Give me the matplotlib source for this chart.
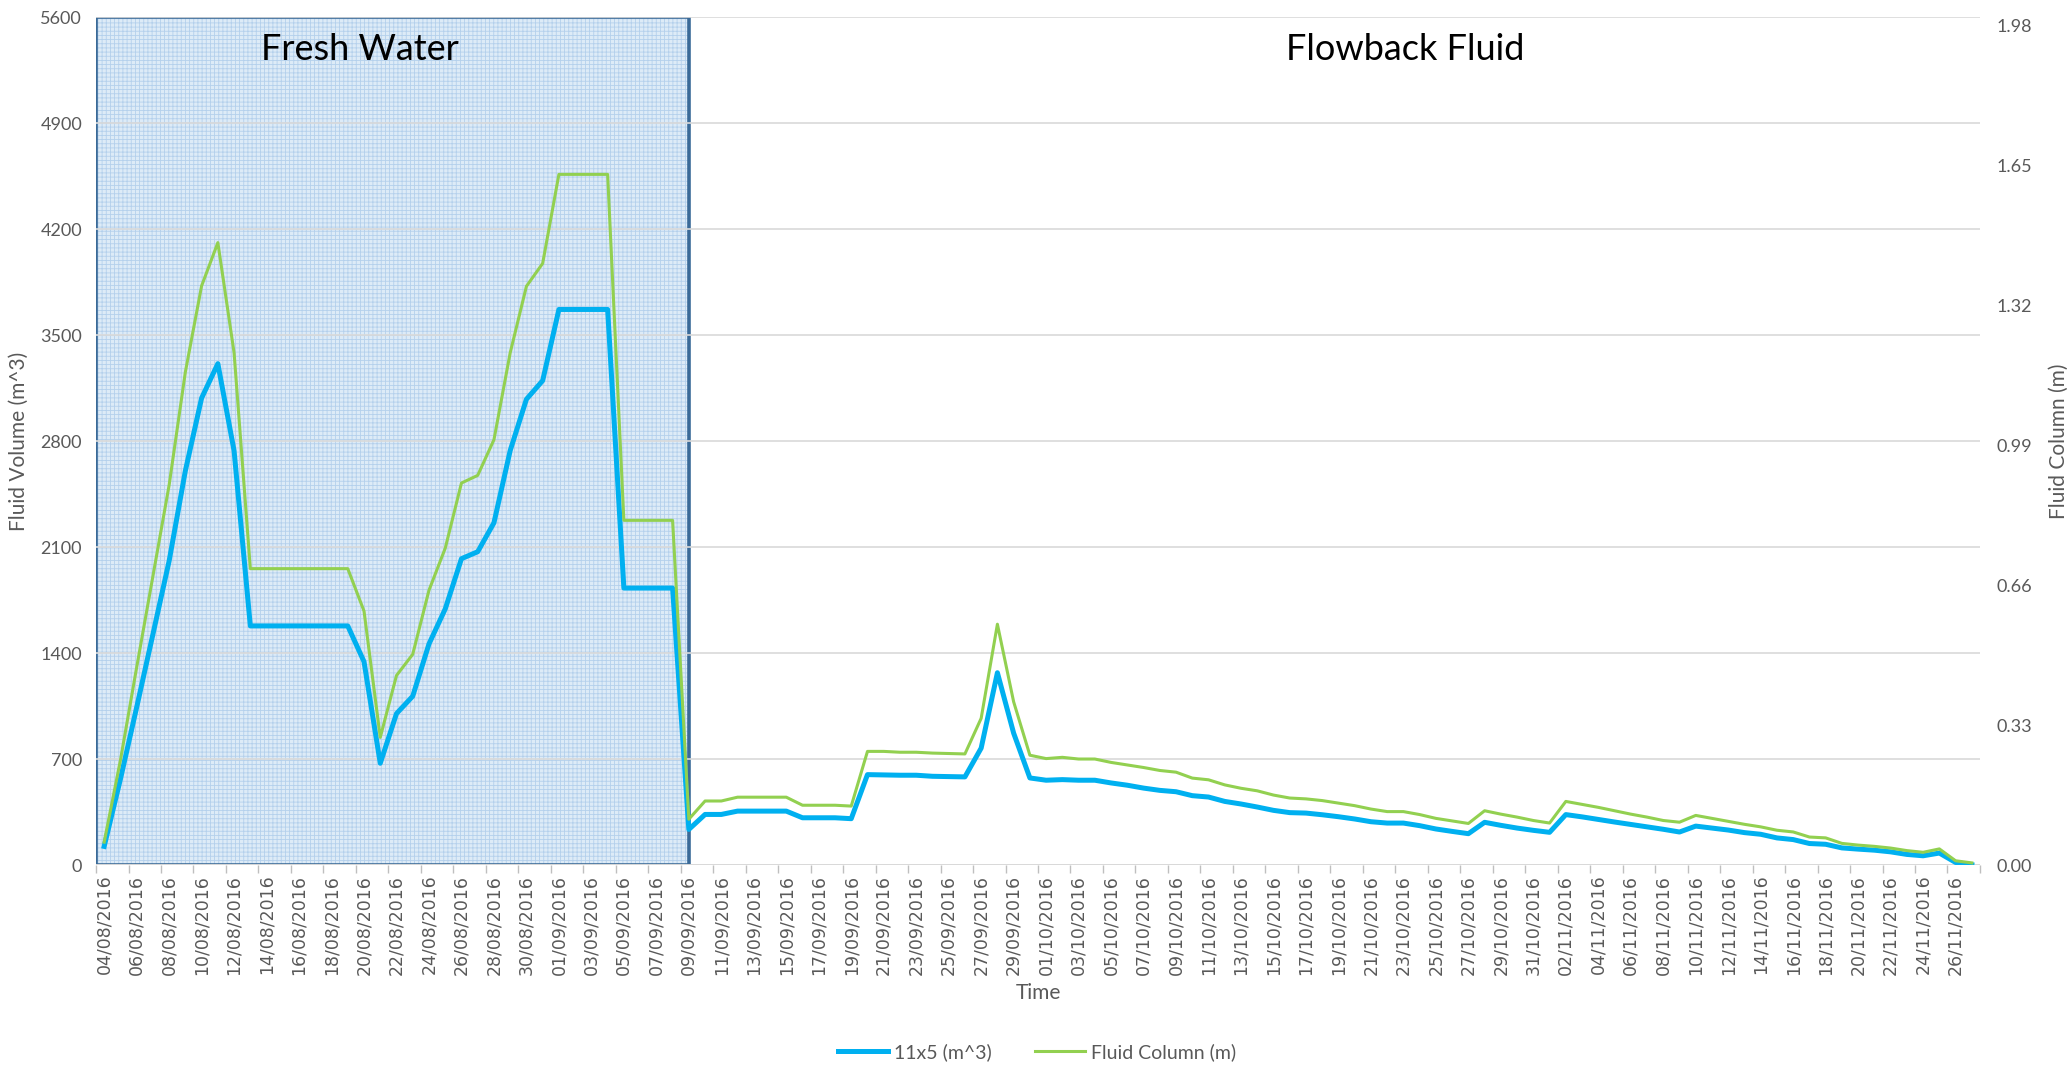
import matplotlib
matplotlib.use("Agg")
import matplotlib.pyplot as plt
import pandas as pd
from matplotlib.patches import Rectangle

plt.rcParams['font.family'] = ['Lato', 'DejaVu Sans']
plt.rcParams['hatch.linewidth'] = 0.6

# daily readings 04/08/2016 .. 27/11/2016
dates = pd.date_range("2016-08-04", "2016-11-27", freq="D")
date_labels = [d.strftime("%d/%m/%Y") for d in dates]

volume_11x5 = [
    123, 567, 1041, 1523, 2008, 2604, 3084, 3311, 2735,
    1579, 1579, 1579, 1579, 1579, 1579, 1579,
    1343, 672, 1000,
    1115, 1460, 1691, 2023, 2069, 2260, 2737, 3076, 3199,
    3669, 3669, 3669, 3669,
    1829, 1829, 1829, 1829,
    235, 334, 334, 356, 356, 356, 356, 312, 312, 312, 306,
    597, 595, 593, 593, 586, 584, 582, 772, 1270, 871,
    575, 560, 564, 560, 560, 542, 527, 508, 493, 484,
    458, 449, 420, 403, 383, 361, 346, 343, 332, 319,
    304, 286, 277, 277, 260, 238, 222, 207, 282, 262,
    244, 229, 216, 333, 318, 301, 284, 268, 252, 236,
    218, 257, 244, 231, 214, 203, 179, 168, 142, 137,
    113, 105, 98, 87, 70, 61, 79, 17, 2,
]

fluid_column = [
    0.054, 0.247, 0.466, 0.681, 0.896, 1.163, 1.366, 1.468, 1.208,
    0.699, 0.699, 0.699, 0.699, 0.699, 0.699, 0.699,
    0.599, 0.301, 0.447,
    0.497, 0.648, 0.747, 0.901, 0.919, 1.003, 1.208, 1.365, 1.419,
    1.629, 1.629, 1.629, 1.629,
    0.813, 0.813, 0.813, 0.813,
    0.108, 0.151, 0.151, 0.160, 0.160, 0.160, 0.160, 0.141, 0.141, 0.141, 0.139,
    0.268, 0.268, 0.266, 0.266, 0.264, 0.263, 0.262, 0.346, 0.568, 0.385,
    0.259, 0.251, 0.254, 0.250, 0.250, 0.242, 0.236, 0.230, 0.223, 0.219,
    0.205, 0.201, 0.189, 0.181, 0.175, 0.165, 0.158, 0.156, 0.152, 0.146,
    0.140, 0.132, 0.126, 0.126, 0.119, 0.110, 0.104, 0.098, 0.128, 0.120,
    0.113, 0.105, 0.099, 0.150, 0.143, 0.136, 0.128, 0.120, 0.113, 0.105,
    0.101, 0.117, 0.110, 0.103, 0.096, 0.090, 0.082, 0.078, 0.066, 0.064,
    0.051, 0.047, 0.044, 0.040, 0.034, 0.030, 0.038, 0.010, 0.005,
]

volume_ticks = [0, 700, 1400, 2100, 2800, 3500, 4200, 4900, 5600]
column_ticks = [0.00, 0.33, 0.66, 0.99, 1.32, 1.65, 1.98]
fresh_water_end = "09/09/2016"

text_grey = "#595959"
blue = "#00B0F0"
green = "#92D050"

x = list(range(len(dates)))
n = len(x)

fig = plt.figure(figsize=(20.7, 10.67), dpi=100)
ax = fig.add_axes([0.0464, 0.1893, 0.9101, 0.7947])
ax2 = ax.twinx()

# fresh water period shading
end_idx = date_labels.index(fresh_water_end)
ax.add_patch(Rectangle((-0.5, 0), end_idx + 0.5, 5600, facecolor="#DDEBF7",
                       edgecolor="#B4D0EC", hatch="++++", linewidth=0, zorder=0.2))
ax.add_patch(Rectangle((-0.5, 0), end_idx + 0.5, 5600, facecolor="none",
                       edgecolor="#3A6A98", linewidth=2.6, zorder=0.3))

ax.plot(x, volume_11x5, color=blue, lw=3.6, solid_joinstyle="round", label="11x5 (m^3)", zorder=3)
ax2.plot(x, fluid_column, color=green, lw=2.2, label="Fluid Column (m)", zorder=3)

ax.set_xlim(-0.5, n - 0.5)
ax.set_ylim(0, 5600)
ax2.set_ylim(0, 2.0)
ax.set_yticks(volume_ticks)
ax2.set_yticks(column_ticks)
ax2.set_yticklabels([f"{v:.2f}" for v in column_ticks])

ax.set_axisbelow(True)
ax.yaxis.grid(True, color="#D9D9D9", lw=1.2)

ax.set_xticks(x[::2])
ax.set_xticklabels(date_labels[::2], rotation=90, family="DejaVu Sans", fontsize=12.5, color=text_grey)
ax.set_xticks([i - 0.5 for i in range(0, n + 1, 2)], minor=True)
ax.tick_params(axis="x", which="major", length=0, pad=7)
ax.tick_params(axis="x", which="minor", length=6, color="#BFBFBF", width=1)
ax.tick_params(axis="y", length=0, labelsize=13, labelcolor=text_grey, pad=10)
ax2.tick_params(axis="y", length=0, labelsize=13, labelcolor=text_grey, pad=12)

for a in (ax, ax2):
    for side in ("top", "left", "right", "bottom"):
        a.spines[side].set_visible(False)
ax.axhline(0, color="#D9D9D9", lw=2, zorder=0.4)

ax.set_ylabel("Fluid Volume (m^3)", fontsize=15, color=text_grey, labelpad=8)
ax2.set_ylabel("Fluid Column (m)", fontsize=15, color=text_grey, labelpad=12)
ax.set_xlabel("Time", fontsize=15, color=text_grey, labelpad=6)

ax.text(0.140, 0.962, "Fresh Water", transform=ax.transAxes, ha="center", va="center",
        fontsize=26, color="black", zorder=5)
ax.text(0.695, 0.962, "Flowback Fluid", transform=ax.transAxes, ha="center", va="center",
        fontsize=26, color="black", zorder=5)

h1, l1 = ax.get_legend_handles_labels()
h2, l2 = ax2.get_legend_handles_labels()
fig.legend(h1 + h2, l1 + l2, loc="center", bbox_to_anchor=(0.501, 0.014), ncol=2,
           frameon=False, fontsize=14, labelcolor=text_grey, handlelength=2.6,
           handletextpad=0.3, columnspacing=2.2)

fig.savefig("out.png", dpi=100)
